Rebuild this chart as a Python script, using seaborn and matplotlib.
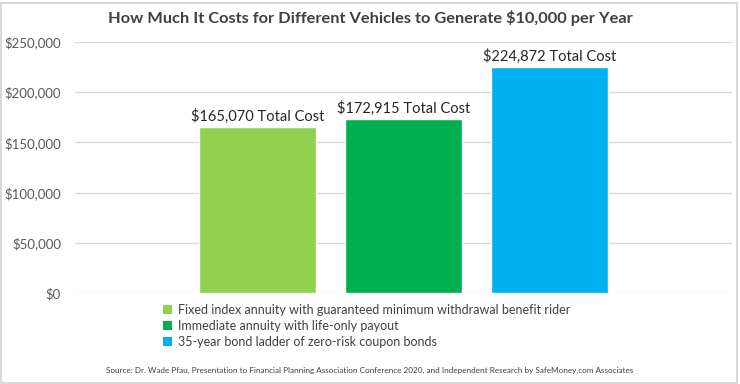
import pandas as pd
import matplotlib.pyplot as plt
import seaborn as sns
from matplotlib.patches import Patch, Rectangle
from matplotlib.ticker import FuncFormatter

vehicles = [
    "Fixed index annuity with guaranteed minimum withdrawal benefit rider",
    "Immediate annuity with life-only payout",
    "35-year bond ladder of zero-risk coupon bonds",
]
total_cost = [165070, 172915, 224872]
colors = ["#92D050", "#00B050", "#00B0F0"]
yticks = [0, 50000, 100000, 150000, 200000, 250000]

df = pd.DataFrame({"vehicle": vehicles, "cost": total_cost})

sns.set_style("white")
plt.rcParams["font.family"] = ["Lato", "DejaVu Sans"]

fig = plt.figure(figsize=(7.4, 3.84), dpi=100)
ax = fig.add_axes([75 / 740, 1 - 293 / 384, 657 / 740, 251 / 384])

sns.barplot(data=df, x="vehicle", y="cost", hue="vehicle", order=vehicles,
            hue_order=vehicles, palette=colors, width=0.795, legend=False,
            saturation=1, ax=ax, zorder=3)

ax.set_xlim(-1.25, 3.25)
ax.set_ylim(0, 250000)
ax.set_yticks(yticks)
ax.yaxis.set_major_formatter(FuncFormatter(lambda v, p: f"${v:,.0f}"))
ax.tick_params(axis="y", labelsize=9.5, labelcolor="#595959", length=0, pad=10)
ax.set_xticks([])
ax.set_xlabel("")
ax.set_ylabel("")
ax.grid(axis="y", color="#d9d9d9", lw=1, zorder=0)
for s in ax.spines.values():
    s.set_visible(False)

for i, v in enumerate(total_cost):
    ax.text(i, v + 3000, f"${v:,} Total Cost", ha="center", va="bottom",
            fontsize=10.5, color="#262626")

handles = [Patch(facecolor=c, edgecolor="none") for c in colors]
fig.legend(handles, vehicles, loc="upper left", bbox_to_anchor=(163 / 740, 1 - 304 / 384),
           frameon=False, fontsize=9, handlelength=0.75, handleheight=0.75,
           handletextpad=0.45, labelspacing=0.3, borderaxespad=0, borderpad=0,
           labelcolor="#404040")

fig.text(0.5, 1 - 18 / 384, "How Much It Costs for Different Vehicles to Generate $10,000 per Year",
         ha="center", va="center", fontsize=11.8, fontweight="bold", color="#404040")
fig.text(370 / 740, 1 - 370 / 384,
         "Source: Dr. Wade Pfau, Presentation to Financial Planning Association Conference 2020, "
         "and Independent Research by SafeMoney.com Associates",
         ha="center", va="center", fontsize=5.9, color="#404040")

fig.patches.append(Rectangle((0.002, 0.003), 0.994, 0.99, transform=fig.transFigure,
                             fill=False, edgecolor="#d9d9d9", lw=1.5))

fig.savefig("out.png", dpi=100)
